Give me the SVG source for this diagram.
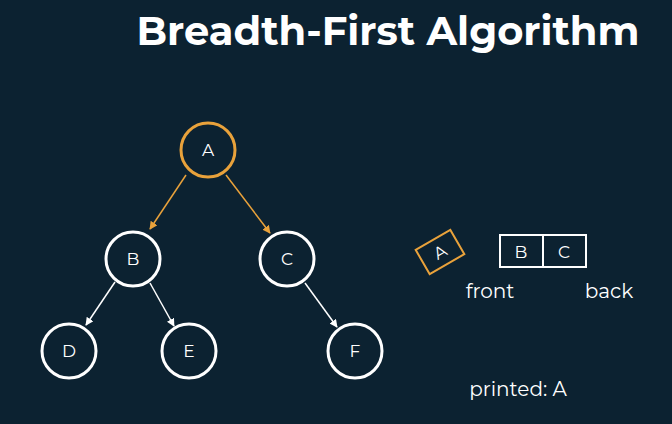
<svg xmlns="http://www.w3.org/2000/svg" width="672" height="424" viewBox="0 0 672 424">
<defs>
<style>
text{font-family:"Montserrat","Inter","Liberation Sans",sans-serif;fill:#fff;text-anchor:middle}
.n{fill:none;stroke:#fff;stroke-width:3}
.na{fill:none;stroke:#e9a23b;stroke-width:3}
.l{font-size:17px}
.e{stroke:#fff;stroke-width:1.5;marker-end:url(#mw)}
.eo{stroke:#e9a23b;stroke-width:1.5;marker-end:url(#mo)}
</style>
<marker id="mw" viewBox="0 0 10 10" refX="9" refY="5" markerWidth="8" markerHeight="8" orient="auto" markerUnits="userSpaceOnUse"><path d="M0,0L10,5L0,10z" fill="#fff"/></marker>
<marker id="mo" viewBox="0 0 10 10" refX="9" refY="5" markerWidth="8" markerHeight="8" orient="auto" markerUnits="userSpaceOnUse"><path d="M0,0L10,5L0,10z" fill="#e9a23b"/></marker>
</defs>
<rect width="672" height="424" fill="#0c2231"/>
<text x="388" y="45" style="font-size:40px;font-weight:bold">Breadth-First Algorithm</text>
<g id="connectors">
<line class="eo" x1="186" y1="175" x2="150" y2="229"/>
<line class="eo" x1="226" y1="175" x2="270" y2="233"/>
<line class="e" x1="115" y1="282" x2="86" y2="325"/>
<line class="e" x1="150" y1="283" x2="174" y2="326"/>
<line class="e" x1="305" y1="283" x2="337" y2="327"/>
</g>
<g id="A"><circle class="na" cx="208" cy="150" r="27"/><text class="l" x="208" y="156">A</text></g>
<g id="B"><circle class="n" cx="133" cy="259" r="27"/><text class="l" x="133" y="265">B</text></g>
<g id="C"><circle class="n" cx="287" cy="259" r="27"/><text class="l" x="287" y="265">C</text></g>
<g id="D"><circle class="n" cx="69" cy="351" r="27"/><text class="l" x="69" y="357">D</text></g>
<g id="E"><circle class="n" cx="189" cy="351" r="27"/><text class="l" x="189" y="357">E</text></g>
<g id="F"><circle class="n" cx="355" cy="351" r="27"/><text class="l" x="355" y="357">F</text></g>
<g id="dequeued" transform="rotate(-30 440 252)">
<rect x="420" y="238" width="40" height="28" fill="none" stroke="#e9a23b" stroke-width="2"/>
<text class="l" x="440" y="258">A</text>
</g>
<g id="queue">
<rect x="500" y="235" width="86" height="32" fill="none" stroke="#fff" stroke-width="2"/>
<line x1="543" y1="235" x2="543" y2="267" stroke="#fff" stroke-width="2"/>
<text class="l" x="521" y="258">B</text>
<text class="l" x="564" y="258">C</text>
</g>
<text x="490" y="298" style="font-size:20px">front</text>
<text x="609" y="298" style="font-size:20px">back</text>
<text x="518" y="396" style="font-size:20px">printed: A</text>
</svg>
